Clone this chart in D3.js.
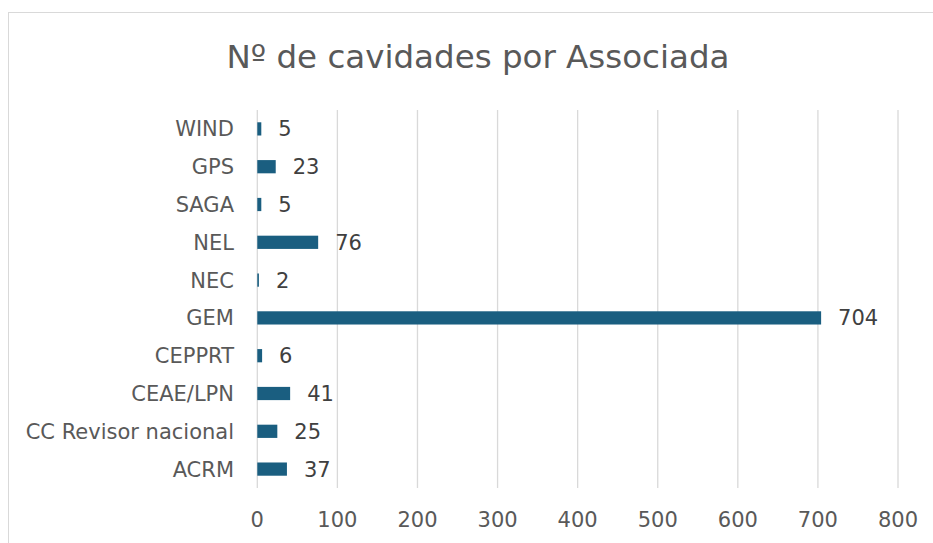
<!DOCTYPE html>
<html>
<head>
<meta charset="utf-8">
<script src="https://cdn.jsdelivr.net/npm/d3@7"></script>
<style>
  body { margin: 0; background: #fff; }
  svg { display: block; font-family: "DejaVu Sans", sans-serif; }
</style>
</head>
<body>
<svg id="chart" width="933" height="543"></svg>
<script>
// data, top to bottom as in the chart
var categories = ['WIND', 'GPS', 'SAGA', 'NEL', 'NEC', 'GEM', 'CEPPRT', 'CEAE/LPN', 'CC Revisor nacional', 'ACRM'];
var values = [5, 23, 5, 76, 2, 704, 6, 41, 25, 37];
var xTicks = [0, 100, 200, 300, 400, 500, 600, 700, 800];
var title = 'Nº de cavidades por Associada';

var rows = categories.map(function(c, i){ return {name: c, val: values[i]}; });

var svg = d3.select('#chart');
var plotL = 257.3, plotR = 898, plotT = 110, plotB = 488;

// chart frame (cropped on right/bottom)
svg.append('rect')
  .attr('x', 8.5).attr('y', 12.5)
  .attr('width', 1000).attr('height', 1000)
  .attr('fill', 'none').attr('stroke', '#d9d9d9');

svg.append('text')
  .attr('x', 478).attr('y', 68)
  .attr('text-anchor', 'middle')
  .attr('fill', '#595959')
  .style('font-size', '32.5px')
  .text(title);

var x = d3.scaleLinear().domain([0, 800]).range([plotL, plotR]);
var y = d3.scaleBand().domain(categories).range([plotT, plotB]).paddingInner(0.65).paddingOuter(0.325);

// gridlines
svg.append('g').selectAll('line').data(xTicks).enter().append('line')
  .attr('x1', function(d){ return x(d); }).attr('x2', function(d){ return x(d); })
  .attr('y1', plotT).attr('y2', plotB)
  .attr('stroke', '#d9d9d9').attr('stroke-width', 1.3);

// x tick labels
svg.append('g').selectAll('text').data(xTicks).enter().append('text')
  .attr('x', function(d){ return x(d); })
  .attr('y', 527)
  .attr('text-anchor', 'middle')
  .attr('fill', '#595959')
  .style('font-size', '21px')
  .text(function(d){ return d; });

// category labels
svg.append('g').selectAll('text').data(rows).enter().append('text')
  .attr('x', 234)
  .attr('y', function(d){ return y(d.name) + y.bandwidth()/2; })
  .attr('dy', '0.36em')
  .attr('text-anchor', 'end')
  .attr('fill', '#595959')
  .style('font-size', '21px')
  .text(function(d){ return d.name; });

// bars
svg.append('g').selectAll('rect').data(rows).enter().append('rect')
  .attr('x', x(0))
  .attr('y', function(d){ return y(d.name); })
  .attr('width', function(d){ return x(d.val) - x(0); })
  .attr('height', y.bandwidth())
  .attr('fill', '#1a5e80');

// value labels
svg.append('g').selectAll('text').data(rows).enter().append('text')
  .attr('x', function(d){ return x(d.val) + 17; })
  .attr('y', function(d){ return y(d.name) + y.bandwidth()/2; })
  .attr('dy', '0.36em')
  .attr('fill', '#404040')
  .style('font-size', '21px')
  .text(function(d){ return d.val; });
</script>
</body>
</html>
